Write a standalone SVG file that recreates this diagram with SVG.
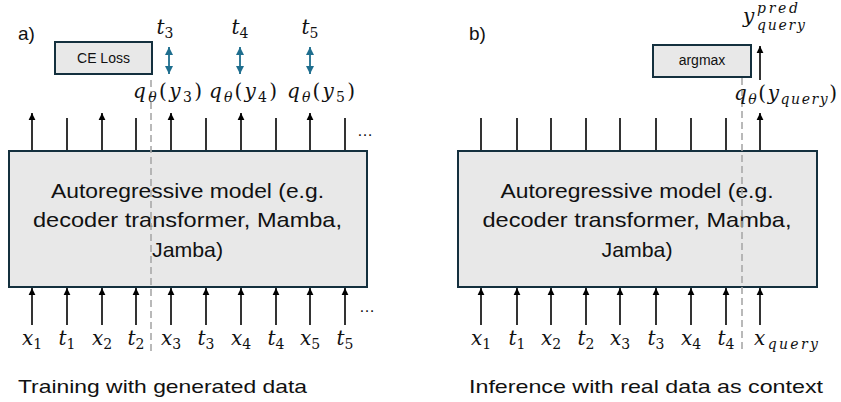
<svg xmlns="http://www.w3.org/2000/svg" width="841" height="402" viewBox="0 0 841 402">
<style>
.box{fill:#e8e8e8;stroke:#14303e;stroke-width:2}
.ln{stroke:#000;stroke-width:1.6;fill:none}
.ar{stroke:#000;stroke-width:1.6;fill:none;marker-end:url(#ah)}
.dash{stroke:#a8a8a8;stroke-width:1.6;stroke-dasharray:7,4;fill:none}
.teal{stroke:#1e6e8e;stroke-width:1.8;fill:none;marker-start:url(#th);marker-end:url(#th)}
.sans{font-family:"Liberation Sans",Arial,sans-serif;fill:#111}
.m{font-family:"DejaVu Serif",serif;font-style:italic;font-size:20px;fill:#111}
.s{font-size:14px}
.d{font-size:14px;font-style:normal}
.up{font-style:normal}
</style>
<defs>
<marker id="ah" markerUnits="userSpaceOnUse" markerWidth="8" markerHeight="8" refX="7" refY="4" orient="auto"><path d="M0,0.6 L7,4 L0,7.4 Z" fill="#000"/></marker>
<marker id="th" markerUnits="userSpaceOnUse" markerWidth="9" markerHeight="9" refX="8" refY="4.5" orient="auto-start-reverse"><path d="M0,0.5 L8,4.5 L0,8.5 Z" fill="#1e6e8e"/></marker>
</defs>

<g id="connectors">
<line class="ar" x1="32" y1="151" x2="32" y2="113"/>
<line class="ln" x1="67" y1="151" x2="67" y2="118"/>
<line class="ar" x1="102" y1="151" x2="102" y2="113"/>
<line class="ln" x1="136" y1="151" x2="136" y2="118"/>
<line class="ar" x1="171" y1="151" x2="171" y2="113"/>
<line class="ln" x1="206" y1="151" x2="206" y2="118"/>
<line class="ar" x1="241" y1="151" x2="241" y2="113"/>
<line class="ln" x1="276" y1="151" x2="276" y2="118"/>
<line class="ar" x1="310" y1="151" x2="310" y2="113"/>
<line class="ln" x1="345" y1="151" x2="345" y2="118"/>
<line class="ar" x1="32" y1="325" x2="32" y2="288"/>
<line class="ar" x1="67" y1="325" x2="67" y2="288"/>
<line class="ar" x1="102" y1="325" x2="102" y2="288"/>
<line class="ar" x1="136" y1="325" x2="136" y2="288"/>
<line class="ar" x1="171" y1="325" x2="171" y2="288"/>
<line class="ar" x1="206" y1="325" x2="206" y2="288"/>
<line class="ar" x1="241" y1="325" x2="241" y2="288"/>
<line class="ar" x1="276" y1="325" x2="276" y2="288"/>
<line class="ar" x1="310" y1="325" x2="310" y2="288"/>
<line class="ar" x1="345" y1="325" x2="345" y2="288"/>
<line class="teal" x1="169" y1="47" x2="169" y2="74"/>
<line class="teal" x1="240" y1="47" x2="240" y2="74"/>
<line class="teal" x1="310" y1="47" x2="310" y2="74"/>
<line class="ln" x1="481" y1="151" x2="481" y2="118"/>
<line class="ln" x1="517" y1="151" x2="517" y2="118"/>
<line class="ln" x1="551" y1="151" x2="551" y2="118"/>
<line class="ln" x1="586" y1="151" x2="586" y2="118"/>
<line class="ln" x1="620" y1="151" x2="620" y2="118"/>
<line class="ln" x1="656" y1="151" x2="656" y2="118"/>
<line class="ln" x1="691" y1="151" x2="691" y2="118"/>
<line class="ln" x1="726" y1="151" x2="726" y2="118"/>
<line class="ar" x1="760" y1="151" x2="760" y2="113"/>
<line class="ar" x1="760" y1="80" x2="760" y2="46"/>
<line class="ar" x1="481" y1="325" x2="481" y2="288"/>
<line class="ar" x1="517" y1="325" x2="517" y2="288"/>
<line class="ar" x1="551" y1="325" x2="551" y2="288"/>
<line class="ar" x1="586" y1="325" x2="586" y2="288"/>
<line class="ar" x1="620" y1="325" x2="620" y2="288"/>
<line class="ar" x1="656" y1="325" x2="656" y2="288"/>
<line class="ar" x1="691" y1="325" x2="691" y2="288"/>
<line class="ar" x1="726" y1="325" x2="726" y2="288"/>
<line class="ar" x1="760" y1="325" x2="760" y2="288"/>
</g>

<g id="model-a">
<rect class="box" x="9" y="151" width="358" height="136"/>
<text class="sans" font-size="21" text-anchor="middle" x="187.5" y="198" textLength="273" lengthAdjust="spacingAndGlyphs">Autoregressive model (e.g.</text>
<text class="sans" font-size="21" text-anchor="middle" x="187.5" y="227" textLength="309" lengthAdjust="spacingAndGlyphs">decoder transformer, Mamba,</text>
<text class="sans" font-size="21" text-anchor="middle" x="187.5" y="257" textLength="71" lengthAdjust="spacingAndGlyphs">Jamba)</text>
</g>

<g id="model-b">
<rect class="box" x="458" y="151" width="359" height="136"/>
<text class="sans" font-size="21" text-anchor="middle" x="637" y="198" textLength="273" lengthAdjust="spacingAndGlyphs">Autoregressive model (e.g.</text>
<text class="sans" font-size="21" text-anchor="middle" x="637" y="227" textLength="309" lengthAdjust="spacingAndGlyphs">decoder transformer, Mamba,</text>
<text class="sans" font-size="21" text-anchor="middle" x="637" y="257" textLength="71" lengthAdjust="spacingAndGlyphs">Jamba)</text>
</g>

<g id="dividers">
<line class="dash" x1="151" y1="80" x2="151" y2="354"/>
<line class="dash" x1="742" y1="78" x2="742" y2="352"/>
</g>

<g id="ce-loss">
<rect class="box" x="55" y="42" width="97" height="32"/>
<text class="sans" font-size="14" text-anchor="middle" x="103.5" y="63">CE Loss</text>
</g>

<g id="argmax">
<rect class="box" x="653" y="45" width="98" height="32"/>
<text class="sans" font-size="14" text-anchor="middle" x="702" y="65">argmax</text>
</g>

<g id="labels">
<text class="sans" font-size="19" x="18" y="40">a)</text>
<text class="sans" font-size="19" x="469" y="40">b)</text>
<text class="sans" font-size="19" x="18" y="393" textLength="289" lengthAdjust="spacingAndGlyphs">Training with generated data</text>
<text class="sans" font-size="19" x="469" y="393" textLength="354" lengthAdjust="spacingAndGlyphs">Inference with real data as context</text>
<text class="sans" font-size="16" x="357" y="136">…</text>
<text class="sans" font-size="16" x="359" y="312">…</text>

<text class="m" text-anchor="middle" x="165" y="34">t<tspan class="d" dy="4">3</tspan></text>
<text class="m" text-anchor="middle" x="240" y="34">t<tspan class="d" dy="4">4</tspan></text>
<text class="m" text-anchor="middle" x="310" y="34">t<tspan class="d" dy="4">5</tspan></text>

<text class="m" x="133" y="98" textLength="69">q<tspan class="s" dy="4">θ</tspan><tspan class="up" dy="-4">(</tspan>y<tspan class="d" dy="4">3</tspan><tspan class="up" dy="-4">)</tspan></text>
<text class="m" x="209" y="98" textLength="68">q<tspan class="s" dy="4">θ</tspan><tspan class="up" dy="-4">(</tspan>y<tspan class="d" dy="4">4</tspan><tspan class="up" dy="-4">)</tspan></text>
<text class="m" x="287" y="98" textLength="68">q<tspan class="s" dy="4">θ</tspan><tspan class="up" dy="-4">(</tspan>y<tspan class="d" dy="4">5</tspan><tspan class="up" dy="-4">)</tspan></text>
<text class="m" x="734" y="100" textLength="103">q<tspan class="s" dy="4">θ</tspan><tspan class="up" dy="-4">(</tspan>y<tspan class="s" dy="4">query</tspan><tspan class="up" dy="-4">)</tspan></text>

<text class="m" x="743" y="23">y</text>
<text class="m s" x="757" y="13" font-size="13" textLength="41">pred</text>
<text class="m s" x="757" y="30" textLength="48">query</text>

<text class="m" text-anchor="middle" x="32" y="345">x<tspan class="d" dy="4">1</tspan></text>
<text class="m" text-anchor="middle" x="67" y="345">t<tspan class="d" dy="4">1</tspan></text>
<text class="m" text-anchor="middle" x="102" y="345">x<tspan class="d" dy="4">2</tspan></text>
<text class="m" text-anchor="middle" x="136" y="345">t<tspan class="d" dy="4">2</tspan></text>
<text class="m" text-anchor="middle" x="171" y="345">x<tspan class="d" dy="4">3</tspan></text>
<text class="m" text-anchor="middle" x="206" y="345">t<tspan class="d" dy="4">3</tspan></text>
<text class="m" text-anchor="middle" x="241" y="345">x<tspan class="d" dy="4">4</tspan></text>
<text class="m" text-anchor="middle" x="276" y="345">t<tspan class="d" dy="4">4</tspan></text>
<text class="m" text-anchor="middle" x="310" y="345">x<tspan class="d" dy="4">5</tspan></text>
<text class="m" text-anchor="middle" x="345" y="345">t<tspan class="d" dy="4">5</tspan></text>

<text class="m" text-anchor="middle" x="481" y="345">x<tspan class="d" dy="4">1</tspan></text>
<text class="m" text-anchor="middle" x="517" y="345">t<tspan class="d" dy="4">1</tspan></text>
<text class="m" text-anchor="middle" x="551" y="345">x<tspan class="d" dy="4">2</tspan></text>
<text class="m" text-anchor="middle" x="586" y="345">t<tspan class="d" dy="4">2</tspan></text>
<text class="m" text-anchor="middle" x="620" y="345">x<tspan class="d" dy="4">3</tspan></text>
<text class="m" text-anchor="middle" x="656" y="345">t<tspan class="d" dy="4">3</tspan></text>
<text class="m" text-anchor="middle" x="691" y="345">x<tspan class="d" dy="4">4</tspan></text>
<text class="m" text-anchor="middle" x="726" y="345">t<tspan class="d" dy="4">4</tspan></text>
<text class="m" x="754" y="345" textLength="64">x<tspan class="s" dy="4">query</tspan></text>
</g>
</svg>
